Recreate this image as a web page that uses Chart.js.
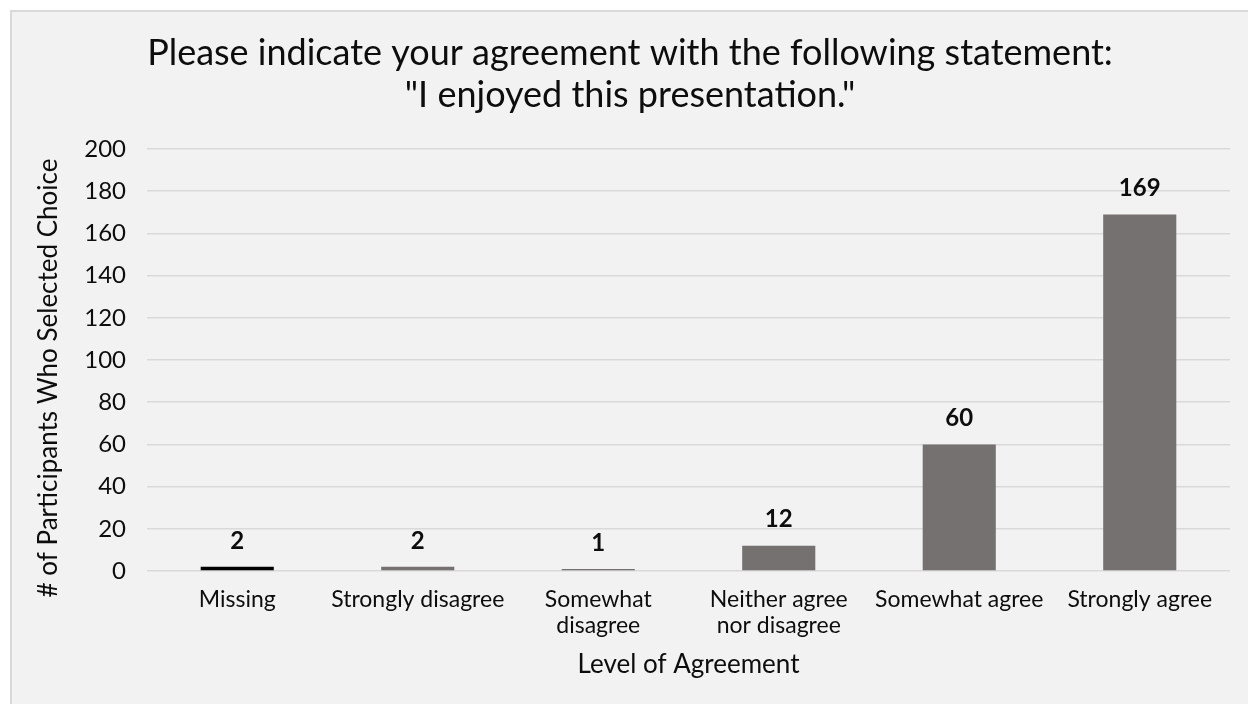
<!DOCTYPE html>
<html>
<head>
<meta charset="utf-8">
<title>Level of Agreement</title>
<script src="https://cdn.jsdelivr.net/npm/chart.js@4.4.1/dist/chart.umd.min.js"></script>
<style>
  html, body { margin: 0; padding: 0; background: #ffffff; overflow: hidden; }
  #panel {
    position: absolute; left: 10px; top: 10px; width: 1238px; height: 694px;
    background: #f2f2f2; border-left: 2px solid #d9d9d9; border-top: 2px solid #d9d9d9;
    box-sizing: border-box;
  }
  #wrap { position: absolute; left: 0; top: 0; width: 1248px; height: 704px; }
</style>
</head>
<body>
<div id="panel"></div>
<div id="wrap"><canvas id="chart" width="1248" height="704"></canvas></div>
<script>
// Survey responses per answer choice
const categories = [
  'Missing',
  'Strongly disagree',
  ['Somewhat', 'disagree'],
  ['Neither agree', 'nor disagree'],
  'Somewhat agree',
  'Strongly agree'
];
const counts = [2, 2, 1, 12, 60, 169];
const yTickValues = [0, 20, 40, 60, 80, 100, 120, 140, 160, 180, 200];

const titleLines = [
  'Please indicate your agreement with the following statement:',
  '"I enjoyed this presentation."'
];
const xAxisTitle = 'Level of Agreement';
const yAxisTitle = '# of Participants Who Selected Choice';

const FONT = 'Lato, "Open Sans", sans-serif';
const INK = '#0d0d0d';
const barColors = counts.map((v, i) => i === 0 ? '#000000' : '#767171');

// Value labels above each bar, placed from the bar elements
const valueLabels = {
  id: 'valueLabels',
  afterDatasetsDraw(chart) {
    const ctx = chart.ctx;
    const meta = chart.getDatasetMeta(0);
    ctx.save();
    ctx.font = 'bold 24px ' + FONT;
    ctx.fillStyle = INK;
    ctx.textAlign = 'center';
    ctx.textBaseline = 'middle';
    meta.data.forEach((bar, i) => {
      ctx.fillText(String(counts[i]), bar.x, bar.y - 26);
    });
    ctx.restore();
  }
};

// Vertical axis title, centred beside the plot
const yTitle = {
  id: 'yTitle',
  afterDraw(chart) {
    const ctx = chart.ctx;
    ctx.save();
    ctx.font = '26px ' + FONT;
    ctx.fillStyle = INK;
    ctx.textAlign = 'center';
    ctx.textBaseline = 'middle';
    ctx.translate(49, 378);
    ctx.rotate(-Math.PI / 2);
    ctx.fillText(yAxisTitle, 0, 0);
    ctx.restore();
  }
};

new Chart(document.getElementById('chart'), {
  type: 'bar',
  data: {
    labels: categories,
    datasets: [{
      data: counts,
      backgroundColor: barColors,
      borderWidth: 0,
      barPercentage: 0.405,
      categoryPercentage: 1.0
    }]
  },
  options: {
    responsive: false,
    animation: false,
    devicePixelRatio: 1,
    layout: { padding: { left: 30, right: 18, top: 0, bottom: 0 } },
    plugins: {
      legend: { display: false },
      tooltip: { enabled: false },
      title: {
        display: true,
        text: titleLines,
        color: INK,
        font: { family: FONT, size: 36, weight: 'normal', lineHeight: 1.167 },
        padding: { top: 32, bottom: 33 }
      }
    },
    scales: {
      x: {
        grid: { display: false, drawTicks: false },
        border: { display: false },
        ticks: {
          color: INK,
          font: { family: FONT, size: 23, lineHeight: 1.13 },
          padding: 16,
          autoSkip: false,
          maxRotation: 0,
          minRotation: 0
        },
        title: {
          display: true,
          text: xAxisTitle,
          color: INK,
          font: { family: FONT, size: 26 },
          padding: { top: 0, bottom: 24 }
        },
        afterFit(scale) { scale.height = 133; }
      },
      y: {
        min: 0,
        max: 200,
        grid: { color: '#d9d9d9', lineWidth: 1.5, drawTicks: false },
        border: { display: false },
        ticks: {
          color: INK,
          font: { family: FONT, size: 24 },
          padding: 21
        },
        afterBuildTicks(scale) {
          scale.ticks = yTickValues.map(v => ({ value: v }));
        },
        afterFit(scale) { scale.width = 117; }
      }
    }
  },
  plugins: [valueLabels, yTitle]
});
</script>
</body>
</html>
